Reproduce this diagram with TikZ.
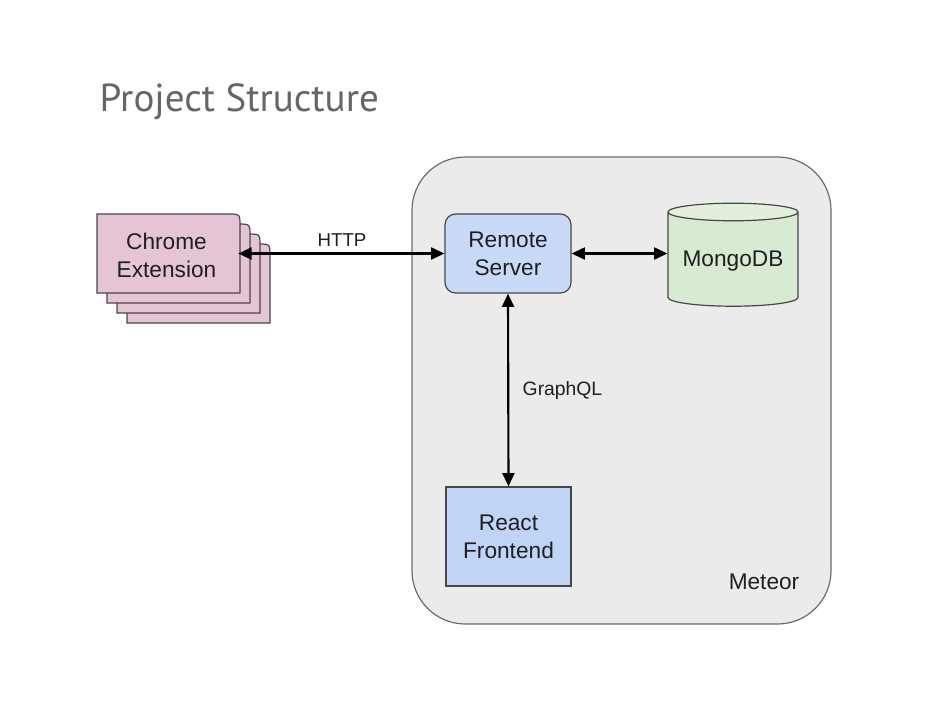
\documentclass[tikz,border=0pt]{standalone}
\usepackage{fontspec}
\setmainfont{Liberation Sans}
\newfontfamily\titlefont{PT Sans}
\usetikzlibrary{shapes.geometric,arrows.meta}
\definecolor{pagepink}{HTML}{E5C4D5}
\definecolor{serverblue}{HTML}{C9DAF8}
\definecolor{reactblue}{HTML}{C0D4F6}
\definecolor{mongogreen}{HTML}{D9EAD3}
\definecolor{mongotop}{HTML}{E2EFDD}
\definecolor{meteorgray}{HTML}{EBEBEB}
\definecolor{edgegray}{HTML}{474747}

\begin{document}
\begin{tikzpicture}[x=0.75pt,y=-0.75pt,
	label/.style={font=\fontsize{17}{21}\selectfont,align=center,text=black!88},
	link/.style={line width=1.6pt,{Triangle[length=10pt,width=9pt]}-{Triangle[length=10pt,width=9pt]}},
	page/.style={draw=edgegray,line width=0.9pt,fill=pagepink}]
\useasboundingbox[fill=white] (0,0) rectangle (929,714);
\node [anchor=base west,font=\titlefont\fontsize{29.3}{32}\selectfont,text=black!60] (title) at (95,111) {Project Structure};
\node [draw=edgegray!80,line width=0.9pt,fill=meteorgray,rounded corners=40pt,minimum width=314.25pt,minimum height=350.25pt] (meteor) at (621.5,390.5) {};
\node [label,anchor=base east] (meteorlabel) at (804,589) {Meteor};
\foreach \o in {30,20,10,0}
	\draw [page] (97+\o,293+\o) -- (97+\o,214+\o) -- (228+\o,214+\o) .. controls (240+\o,214+\o) .. (240+\o,226+\o) -- (240+\o,293+\o) -- cycle;
\node [label,minimum width=107.25pt,minimum height=59.25pt] (chrome) at (166.5,255) {Chrome\\Extension};
\node [label,draw=edgegray,line width=0.9pt,fill=serverblue,rounded corners=8pt,minimum width=94.5pt,minimum height=59.25pt] (remote) at (508,253.5) {Remote\\Server};
\node [label,draw=edgegray,line width=0.9pt,cylinder,shape border rotate=90,aspect=0.16,cylinder uses custom fill,cylinder body fill=mongogreen,cylinder end fill=mongotop,minimum width=97.5pt,minimum height=77.25pt] (mongo) at (733,261) {MongoDB};
\node [label,draw=edgegray,line width=0.9pt,fill=reactblue,minimum width=93.75pt,minimum height=74.25pt] (react) at (508.5,536.5) {React\\Frontend};
\draw [link] (chrome.east |- remote.west) -- (remote.west);
\draw [link] (remote.east) -- (remote.east -| mongo.west);
\draw [link] (remote.south) -- (react.north);
\node [font=\fontsize{14}{17}\selectfont,text=black!88] (http) at (342,240) {HTTP};
\node [font=\fontsize{14.5}{17}\selectfont,text=black!88,anchor=west] (graphql) at (518,390) {GraphQL};
\end{tikzpicture}
\end{document}
